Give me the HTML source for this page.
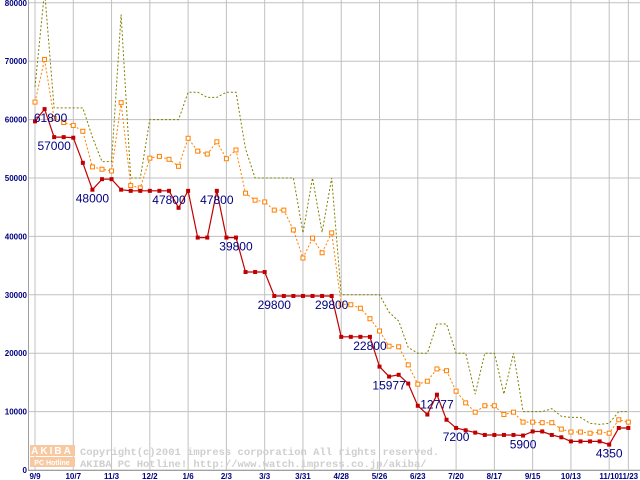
<!DOCTYPE html>
<html><head><meta charset="utf-8"><style>
html,body{margin:0;padding:0;background:#fff;}
svg{display:block;font-family:"Liberation Sans",sans-serif;}
</style></head><body>
<svg id="chart" width="640" height="480" viewBox="0 0 640 480" xmlns="http://www.w3.org/2000/svg">
<rect x="0" y="0" width="640" height="480" fill="#fff"/>
<g id="grid"></g>
<g id="axes"></g>
<g id="watermark">
<rect x="30" y="445" width="45" height="11" fill="#f8c8a0"/>
<text x="52" y="454" font-size="10" font-weight="bold" fill="#fff" text-anchor="middle" letter-spacing="2">AKIBA</text>
<rect x="30" y="457" width="45" height="10" fill="#f8c8a0"/>
<text x="52" y="465" font-size="7" font-weight="bold" fill="#fff" text-anchor="middle">PC Hotline</text>
<text x="80" y="455" font-family="Liberation Mono, monospace" font-size="10.5" font-weight="bold" fill="#cfcfcf">Copyright(c)2001 impress corporation All rights reserved.</text>
<text x="80" y="467" font-family="Liberation Mono, monospace" font-size="10.5" font-weight="bold" fill="#cfcfcf">AKIBA PC Hotline!  http://www.watch.impress.co.jp/akiba/</text>
</g>
<g id="series"></g>
<g id="labels"></g>
</svg>
<script>
const tickIdx = [0,4,8,12,16,20,24,28,32,36,40,44,48,52,56,60,62];
const tickLabels = ["9/9","10/7","11/3","12/2","1/6","2/3","3/3","3/31","4/28","5/26","6/23","7/20","8/17","9/15","10/13","11/10","11/23"];
const yTicks = [0,10000,20000,30000,40000,50000,60000,70000,80000];
const minPrice = [59700,61800,57000,57000,56900,52600,48000,49800,49800,48000,47800,47800,47800,47800,47800,44900,47800,39800,39800,47800,39800,39800,33900,33900,33900,29800,29800,29800,29800,29800,29800,29800,22800,22800,22800,22800,17700,16000,16300,14800,11000,9500,12900,8600,7200,6800,6400,6000,6000,6000,6000,5900,6600,6600,6000,5600,4900,4900,4900,4900,4350,7200,7200];
const avgPrice = [63000,70300,60200,59500,59000,58000,51900,51500,51200,62900,48700,48300,53400,53700,53200,52000,56800,54600,54100,56200,53300,54800,47400,46200,45900,44500,44500,41100,36300,39700,37200,40600,28400,28300,27700,25900,23800,21200,21100,18000,14700,15200,17300,17000,13500,11500,9900,11000,11000,9500,9900,8200,8200,8100,8100,7000,6500,6500,6300,6500,6300,8600,8200];
const maxPrice = [65600,82000,62000,62000,62000,62000,57000,52800,52800,78000,50000,50000,60000,60000,60000,60000,64700,64700,63800,63800,64700,64700,55000,50000,50000,50000,50000,50000,40600,50000,40700,50000,30000,30000,30000,30000,30000,27000,25500,21000,20000,20000,25000,25000,20000,20000,13000,20000,20000,13000,20000,10000,10000,10000,10500,9200,9000,9000,8000,7800,8000,10000,10000];
const labelIdx = [1,2,6,14,19,21,25,31,35,37,42,44,51,60];
const labelText = ["61800","57000","48000","47800","47800","39800","29800","29800","22800","15977","12777","7200","5900","4350"];
const labelVal = [61800,57000,48000,47800,47800,39800,29800,29800,22800,15977,12777,7200,5900,4350];

const NS="http://www.w3.org/2000/svg";
const X0=35, DX=9.57, Y0=470, YK=0.00584;
const xs=i=>X0+i*DX;
const ys=v=>Y0-v*YK;
function mk(tag,attrs,parent){const e=document.createElementNS(NS,tag);for(const k in attrs)e.setAttribute(k,attrs[k]);parent.appendChild(e);return e;}
const grid=document.getElementById('grid'), axes=document.getElementById('axes'), series=document.getElementById('series'), labels=document.getElementById('labels');

yTicks.forEach(v=>{
  const l=mk('line',{x1:28,x2:640,y1:ys(v),y2:ys(v),stroke:'#c0c0c0','stroke-width':1},grid);
  
  
  const t=mk('text',{x:27,y:ys(v)+3,'font-size':8,'font-weight':'bold',fill:'#000080','text-anchor':'end'},axes);
  t.textContent=v;
  
  
});
tickIdx.forEach((i,k)=>{
  const l=mk('line',{x1:xs(i),x2:xs(i),y1:0,y2:470,stroke:'#c0c0c0','stroke-width':1},grid);
  
  
  const t=mk('text',{x:xs(i),y:479,'font-size':8,'font-weight':'bold',fill:'#000080','text-anchor':'middle'},axes);
  t.textContent=tickLabels[k];
  
  
});
const ax=mk('line',{x1:28,x2:640,y1:470.5,y2:470.5,stroke:'#a0a0a0'},axes);


const ay=mk('line',{x1:28.5,x2:28.5,y1:0,y2:470,stroke:'#a0a0a0'},axes);



function pts(a){return a.map((v,i)=>xs(i).toFixed(1)+','+ys(v).toFixed(1)).join(' ');}
const pMax=mk('polyline',{points:pts(maxPrice),fill:'none',stroke:'#808000','stroke-width':1,'stroke-dasharray':'2,2'},series);


const pAvg=mk('polyline',{points:pts(avgPrice),fill:'none',stroke:'#ff8000','stroke-width':1,'stroke-dasharray':'2,2'},series);


avgPrice.forEach((v,i)=>{
  const r=mk('rect',{x:xs(i)-2,y:ys(v)-2,width:4,height:4,fill:'#fff',stroke:'#ff8000','stroke-width':1},series);
  
  
});
const pMin=mk('polyline',{points:pts(minPrice),fill:'none',stroke:'#c00000','stroke-width':1.2},series);


minPrice.forEach((v,i)=>{
  const r=mk('rect',{x:xs(i)-2,y:ys(v)-2,width:4,height:4,fill:'#c00000'},series);
  
  
});
labelIdx.forEach((i,k)=>{
  const t=mk('text',{x:xs(i)+(k===0?6:0),y:ys(labelVal[k])+13,'font-size':12,fill:'#000080','text-anchor':'middle'},labels);
  t.textContent=labelText[k];
  
  
});
</script>
</body></html>
